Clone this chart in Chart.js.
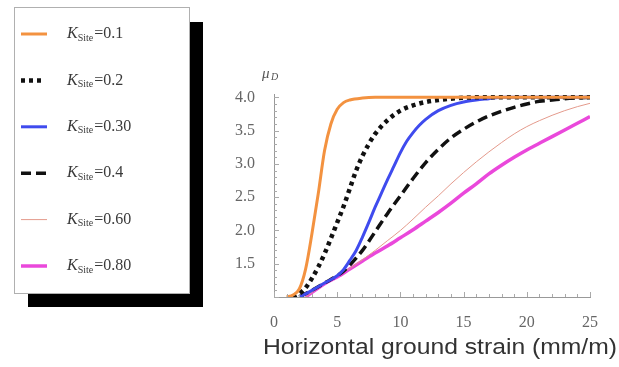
<!DOCTYPE html>
<html>
<head>
<meta charset="utf-8">
<script src="https://cdn.jsdelivr.net/npm/chart.js@4"></script>
<style>
  body { margin: 0; background: #fff; }
  canvas { display: block; }
</style>
</head>
<body>
<canvas id="myChart" width="619" height="367"></canvas>
<script>
// values
const kLabels = ['0.1', '0.2', '0.30', '0.4', '0.60', '0.80'];
const xTicks = [0, 5, 10, 15, 20, 25];
const yTicks = [1.5, 2.0, 2.5, 3.0, 3.5, 4.0];

const xOrange = [1, 1.5, 2, 2.5, 3, 3.5, 4, 4.5, 5, 5.5, 6, 7, 8, 25];
const yOrange = [1.0, 1.03, 1.12, 1.42, 1.95, 2.55, 3.2, 3.6, 3.82, 3.92, 3.96, 3.99, 4.0, 4.0];

const xDot = [1.5, 2, 2.5, 3, 3.5, 4, 4.5, 5, 5.5, 6, 6.5, 7, 7.5, 8, 9, 10, 11, 12, 13, 14, 16, 25];
const yDot = [1.0, 1.05, 1.14, 1.28, 1.45, 1.65, 1.88, 2.12, 2.36, 2.63, 2.9, 3.12, 3.3, 3.45, 3.66, 3.8, 3.88, 3.93, 3.96, 3.98, 4.0, 4.0];

const xBlue = [2, 3, 4, 5, 5.5, 6, 6.5, 7, 7.5, 8, 8.5, 9, 9.5, 10, 10.5, 11, 11.5, 12, 13, 14, 15, 16, 17, 18, 25];
const yBlue = [1.0, 1.1, 1.21, 1.32, 1.41, 1.55, 1.7, 1.9, 2.12, 2.35, 2.56, 2.77, 2.97, 3.17, 3.34, 3.47, 3.58, 3.67, 3.8, 3.88, 3.93, 3.96, 3.98, 4.0, 4.0];

const xDash = [2, 3, 4, 5, 5.5, 6, 7, 8, 9, 10, 11, 12, 13, 14, 15, 16, 17, 18, 19, 20, 21, 22, 23, 25];
const yDash = [1.0, 1.1, 1.21, 1.32, 1.39, 1.48, 1.7, 1.98, 2.26, 2.52, 2.78, 3.02, 3.22, 3.39, 3.52, 3.63, 3.72, 3.79, 3.85, 3.9, 3.94, 3.96, 3.98, 4.0];

const xThin = [2.5, 4, 5, 6, 7, 8, 9, 10, 11, 12, 13, 14, 15, 16, 17, 18, 19, 20, 21, 22, 23, 24, 25];
const yThin = [1.0, 1.2, 1.31, 1.43, 1.56, 1.7, 1.85, 2.0, 2.17, 2.35, 2.52, 2.7, 2.87, 3.03, 3.18, 3.32, 3.45, 3.56, 3.65, 3.73, 3.8, 3.86, 3.91];

const xMag = [2.5, 4, 5, 6, 7, 8, 9, 10, 11, 12, 13, 14, 15, 16, 17, 18, 19, 20, 21, 22, 23, 24, 25];
const yMag = [1.0, 1.2, 1.3, 1.42, 1.54, 1.66, 1.77, 1.89, 2.01, 2.14, 2.27, 2.41, 2.56, 2.7, 2.85, 2.98, 3.1, 3.21, 3.31, 3.41, 3.51, 3.61, 3.71];

const serif = '"Liberation Serif", "DejaVu Serif", serif';

function toPoints(xs, ys) {
  return xs.map((x, i) => ({ x: x, y: ys[i] }));
}

function makeSet(label, xs, ys, color, width, dash) {
  return {
    label: label,
    data: toPoints(xs, ys),
    borderColor: color,
    backgroundColor: color,
    borderWidth: width,
    borderDash: dash || [],
    borderCapStyle: 'butt',
    cubicInterpolationMode: 'monotone',
    pointRadius: 0,
    fill: false,
  };
}

// little inward ticks like the original frame
const tickMarks = {
  id: 'tickMarks',
  afterDatasetsDraw(chart) {
    const ctx = chart.ctx;
    const xs = chart.scales.x;
    const ys = chart.scales.y;
    ctx.save();
    ctx.strokeStyle = '#aaa';
    ctx.lineWidth = 1;
    ctx.beginPath();
    for (let v = 0; v <= 25; v++) {
      const px = Math.round(xs.getPixelForValue(v)) + 0.5;
      const len = v % 5 === 0 ? 5 : 3;
      ctx.moveTo(px, ys.bottom);
      ctx.lineTo(px, ys.bottom - len);
    }
    for (let i = 0; i <= 30; i++) {
      const v = 1 + i * 0.1;
      const py = Math.round(ys.getPixelForValue(v)) + 0.5;
      const len = i % 5 === 0 ? 5 : 3;
      ctx.moveTo(xs.left, py);
      ctx.lineTo(xs.left + len, py);
    }
    ctx.stroke();
    ctx.restore();
  },
};

// boxed legend with the black drop shadow, axis symbol and x title
const extras = {
  id: 'extras',
  afterDraw(chart) {
    const ctx = chart.ctx;
    const sets = chart.data.datasets;
    ctx.save();

    ctx.fillStyle = '#000';
    ctx.fillRect(28, 22, 175, 285);
    ctx.fillStyle = '#fff';
    ctx.fillRect(14, 7, 175, 286);
    ctx.strokeStyle = '#b0b0b0';
    ctx.lineWidth = 1;
    ctx.strokeRect(14.5, 7.5, 175, 286);

    sets.forEach((ds, i) => {
      const y = 34 + i * 46.4;
      ctx.beginPath();
      ctx.strokeStyle = ds.borderColor;
      ctx.lineWidth = ds.borderWidth;
      ctx.setLineDash(ds.borderDash);
      ctx.lineCap = 'butt';
      ctx.moveTo(21, y);
      ctx.lineTo(i === 1 ? 41 : 47, y);
      ctx.stroke();
      ctx.setLineDash([]);

      ctx.fillStyle = '#3a3a3a';
      ctx.textBaseline = 'middle';
      ctx.textAlign = 'left';
      ctx.font = 'italic 16px ' + serif;
      ctx.fillText('K', 67, y);
      let w = ctx.measureText('K').width;
      ctx.font = '10px ' + serif;
      ctx.fillText('Site', 67 + w, y + 4);
      w += ctx.measureText('Site').width;
      ctx.font = '16px ' + serif;
      ctx.fillText('=' + kLabels[i], 67 + w + 1, y);
    });

    ctx.fillStyle = '#555';
    ctx.font = 'italic 15px ' + serif;
    ctx.textBaseline = 'middle';
    ctx.fillText('\u03bc', 262, 74);
    ctx.font = 'italic 10px ' + serif;
    ctx.fillText('D', 271, 77);

    const title = 'Horizontal ground strain (mm/m)';
    ctx.font = '22px "Liberation Sans", Arial, sans-serif';
    ctx.fillStyle = '#333';
    const tw = ctx.measureText(title).width;
    ctx.translate(263, 348);
    ctx.scale(354 / tw, 1);
    ctx.textAlign = 'left';
    ctx.fillText(title, 0, 0);
    ctx.restore();
  },
};

const chartConfig = {
  type: 'line',
  data: {
    datasets: [
      makeSet('K=0.1', xOrange, yOrange, '#f39240', 3),
      makeSet('K=0.2', xDot, yDot, '#111111', 4.5, [4, 4]),
      makeSet('K=0.30', xBlue, yBlue, '#3f4bee', 3),
      makeSet('K=0.4', xDash, yDash, '#111111', 3.5, [10, 5]),
      makeSet('K=0.60', xThin, yThin, '#e49a8c', 1),
      makeSet('K=0.80', xMag, yMag, '#ea48db', 3.5),
    ],
  },
  options: {
    responsive: false,
    animation: false,
    layout: {
      padding: { left: 0, right: 29, top: 94, bottom: 0 },
    },
    plugins: {
      legend: { display: false },
      tooltip: { enabled: false },
    },
    scales: {
      x: {
        type: 'linear',
        min: 0,
        max: 25,
        grid: { display: false },
        border: { display: true, color: '#999', width: 1 },
        afterBuildTicks: (scale) => {
          scale.ticks = xTicks.map((v) => ({ value: v }));
        },
        afterFit: (scale) => {
          scale.height = 70;
        },
        ticks: {
          padding: 8,
          color: '#666',
          font: { family: serif, size: 16 },
          maxRotation: 0,
          callback: (value) => String(value),
        },
      },
      y: {
        type: 'linear',
        min: 1.0,
        max: 4.05,
        grid: { display: false },
        border: { display: true, color: '#999', width: 1 },
        afterBuildTicks: (scale) => {
          scale.ticks = yTicks.map((v) => ({ value: v }));
        },
        afterFit: (scale) => {
          scale.width = 274;
        },
        ticks: {
          padding: 11,
          color: '#666',
          font: { family: serif, size: 16 },
          callback: (value) => Number(value).toFixed(1),
        },
      },
    },
  },
  plugins: [tickMarks, extras],
};

const ctx = document.getElementById('myChart');
const myChart = new Chart(ctx, chartConfig);
</script>
</body>
</html>
